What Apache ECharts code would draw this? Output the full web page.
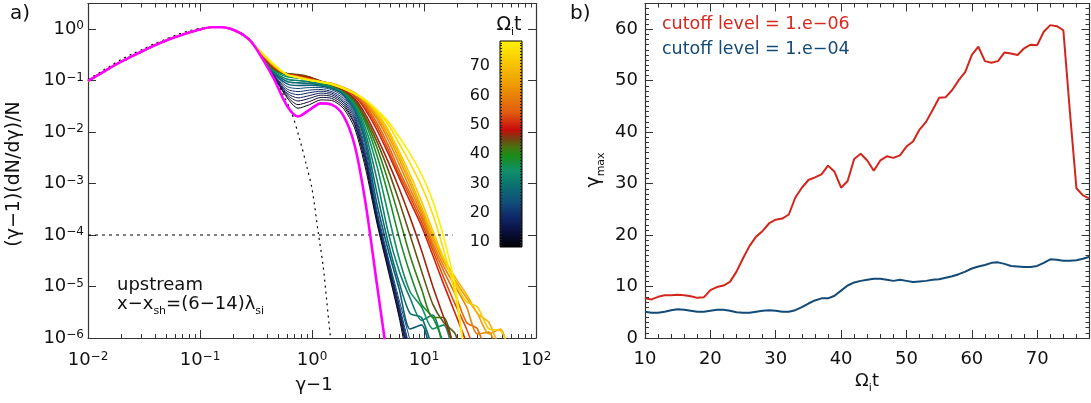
<!DOCTYPE html>
<html><head><meta charset="utf-8">
<script src="https://cdn.jsdelivr.net/npm/echarts@6/dist/echarts.min.js"></script>
<style>html,body{margin:0;padding:0;background:#fff}#c{width:1091px;height:403px}</style>
</head><body><div id="c"></div>
<script>
// ===== DATA =====
// Left panel: shared low-energy core of all spectra
const coreX = [0.01,0.0125,0.016,0.02,0.025,0.032,0.04,0.05,0.063,0.08,0.1,0.125,0.16,0.2,0.25,0.3];
const coreY = [0.098,0.13,0.18,0.235,0.30,0.39,0.49,0.60,0.72,0.86,0.98,1.08,1.08,0.96,0.74,0.50];
// tails (gamma-1 grid)
const tailX = [0.45,0.6,0.75,0.95,1.2,1.5,1.9,2.4,3.0,3.8,4.8,6.0,7.5,9.5,12,15,19,24,30,38,48,60];
const tailMag = [0.115,0.032,0.020,0.027,0.036,0.034,0.021,0.0056,4.3e-4,1.1e-5,3e-7];
const tail10 = [0.125,0.046,0.029,0.034,0.042,0.041,0.029,0.012,2.0e-3,1.7e-4,2.0e-5,2.5e-6,2e-7];
const tail12 = [0.127,0.049,0.034,0.039,0.047,0.045,0.032,0.014,2.4e-3,1.9e-4,2.2e-5,2.8e-6,3e-7];
const tail14 = [0.128,0.053,0.040,0.045,0.052,0.049,0.035,0.015,2.8e-3,2.0e-4,2.5e-5,3.2e-6,3.5e-7];
const tail16 = [0.130,0.057,0.046,0.051,0.057,0.053,0.038,0.017,3.1e-3,2.2e-4,2.8e-5,3.6e-6,4e-7];
const tail18 = [0.133,0.062,0.053,0.058,0.062,0.057,0.041,0.019,3.5e-3,2.4e-4,3.0e-5,4e-6,5e-7];
const tail20 = [0.136,0.068,0.061,0.065,0.067,0.061,0.045,0.021,4.0e-3,2.6e-4,3.3e-5,4.5e-6,6e-7];
const tail23 = [0.140,0.076,0.070,0.073,0.073,0.066,0.049,0.023,4.8e-3,3.0e-4,3.6e-5,5.5e-6,9e-7,1e-7];
const tail26 = [0.145,0.086,0.080,0.081,0.078,0.070,0.053,0.026,6.0e-3,4.0e-4,5e-5,9e-6,1.5e-6,1.8e-6,3e-7];
const tail29 = [0.150,0.096,0.090,0.088,0.082,0.073,0.056,0.029,7.5e-3,6.5e-4,7e-5,1.2e-5,3e-6,2.5e-6,6e-7,2e-7];
const tail32 = [0.155,0.106,0.100,0.094,0.085,0.076,0.059,0.032,9.5e-3,1.2e-3,1.1e-4,2e-5,6e-6,2.2e-6,2.8e-6,5e-7];
const tail35 = [0.160,0.118,0.112,0.102,0.089,0.078,0.061,0.035,0.012,2.2e-3,2.5e-4,3.5e-5,8e-6,4e-6,1.5e-6,1.8e-6,3e-7];
const tail38 = [0.165,0.128,0.122,0.110,0.093,0.080,0.063,0.038,0.015,3.5e-3,6e-4,9e-5,1.8e-5,4.5e-6,2.5e-6,8e-7,2e-7];
const tail41 = [0.170,0.134,0.128,0.115,0.096,0.082,0.064,0.040,0.017,5e-3,1.1e-3,2.2e-4,4e-5,9e-6,2.5e-6,2.5e-6,4e-7];
const tail44 = [0.175,0.136,0.130,0.117,0.097,0.083,0.065,0.042,0.019,6.5e-3,1.8e-3,4.5e-4,1.0e-4,2e-5,4.5e-6,2e-6,1.2e-6,2e-7];
const tail47 = [0.180,0.135,0.127,0.114,0.096,0.084,0.066,0.045,0.022,8e-3,2.6e-3,8e-4,2.2e-4,5e-5,1e-5,2.5e-6,6e-7];
const tail50 = [0.185,0.132,0.122,0.109,0.095,0.085,0.068,0.050,0.027,0.011,3.8e-3,1.3e-3,4.5e-4,1.5e-4,4e-5,1.1e-5,3e-6,8e-7,2e-7];
const tail53 = [0.190,0.132,0.120,0.107,0.095,0.086,0.070,0.052,0.030,0.013,4.5e-3,1.5e-3,5.5e-4,1.8e-4,5e-5,1.5e-5,4.5e-6,1.5e-6,4e-7];
const tail56 = [0.195,0.131,0.118,0.106,0.095,0.086,0.071,0.054,0.033,0.015,5.5e-3,1.8e-3,6.5e-4,2.2e-4,6e-5,2e-5,7e-6,2e-6,1.5e-6,3e-7];
const tail60 = [0.200,0.130,0.117,0.105,0.095,0.087,0.072,0.056,0.036,0.018,7e-3,2.4e-3,8e-4,2.6e-4,7e-5,2.5e-5,1e-5,4e-6,1.2e-6,1.3e-6,2e-7];
const tail64 = [0.200,0.130,0.116,0.104,0.094,0.087,0.073,0.057,0.038,0.020,8.5e-3,3e-3,1e-3,3e-4,8.5e-5,3e-5,1.3e-5,6e-6,3e-6,1.2e-6,1.5e-6,3e-7];
const tail68 = [0.205,0.130,0.116,0.103,0.094,0.087,0.073,0.058,0.040,0.022,0.010,3.6e-3,1.2e-3,3.5e-4,1e-4,3.5e-5,1.5e-5,7e-6,3e-6,2e-6,6e-7,3e-7];
const tail72 = [0.205,0.130,0.115,0.102,0.094,0.086,0.072,0.057,0.041,0.024,0.011,4.2e-3,1.5e-3,4.5e-4,1.2e-4,3.5e-5,1.2e-5,5e-6,4e-6,1.5e-6,1.4e-6,5e-7];
const tail75 = [0.210,0.130,0.115,0.102,0.094,0.085,0.071,0.056,0.042,0.026,0.014,6e-3,2.5e-3,9e-4,2.5e-4,5e-5,7e-6,3e-7];
const tail78 = [0.210,0.130,0.114,0.101,0.093,0.084,0.070,0.055,0.042,0.027,0.016,8e-3,3.8e-3,1.5e-3,4.5e-4,9e-5,1e-5,2e-7];
const spectra = [[10,tail10],[12,tail12],[14,tail14],[16,tail16],[18,tail18],[20,tail20],[23,tail23],[26,tail26],[29,tail29],[32,tail32],[35,tail35],[38,tail38],[41,tail41],[44,tail44],[47,tail47],[50,tail50],[53,tail53],[56,tail56],[60,tail60],[64,tail64],[68,tail68],[72,tail72],[75,tail75],[78,tail78]];
// dashed Maxwellian
const maxwX = [0.01,0.0125,0.016,0.02,0.025,0.032,0.04,0.05,0.063,0.08,0.1,0.125,0.16,0.2,0.25,0.3,0.36,0.45,0.55,0.66,0.78,0.9,1.0,1.14,1.26,1.35,1.45,1.55];
const maxwY = [0.105,0.14,0.195,0.26,0.33,0.42,0.53,0.64,0.78,0.92,1.03,1.10,1.09,0.97,0.76,0.52,0.31,0.13,0.055,0.023,0.0070,0.0021,8.0e-4,1.07e-4,2.4e-5,5.5e-6,1.2e-6,3e-7];
// horizontal cutoff level line
const cutX = [0.01, 18];
const cutY = [1e-4, 1e-4];
// tick values
const xTicksLeft = [0.01,0.1,1,10,100];
const yTicksLeft = [1e-6,1e-5,1e-4,1e-3,1e-2,1e-1,1];
const cbTicks = [10,20,30,40,50,60,70];
const xTicksRight = [10,20,30,40,50,60,70];
const yTicksRight = [0,10,20,30,40,50,60];
// Right panel
const tRight = [10,11,12,13,14,15,16,17,18,19,20,21,22,23,24,25,26,27,28,29,30,31,32,33,34,35,36,37,38,39,40,41,42,43,44,45,46,47,48,49,50,51,52,53,54,55,56,57,58,59,60,61,62,63,64,65,66,67,68,69,70,71,72,73,74,75,76,77,78];
const gmax6 = [7.7,7.5,8.0,8.3,8.3,8.4,8.3,8.1,7.8,7.9,9.3,9.9,10.2,10.9,12.9,15.5,17.9,19.7,20.8,22.3,23.0,23.2,24.0,27.3,29.2,30.7,31.2,31.8,33.5,32.3,29.2,30.5,34.8,35.8,34.5,32.5,34.5,35.3,35.0,35.5,37.2,38.2,40.5,42.0,44.3,46.7,46.8,48.2,50.1,51.7,55.0,56.6,53.8,53.5,53.8,55.5,55.3,55.0,56.3,57.0,56.9,59.5,60.8,60.6,59.8,44.0,29.1,27.7,27.1];
const gmax4 = [5.1,4.9,4.9,5.1,5.4,5.6,5.5,5.3,5.1,5.1,5.3,5.5,5.5,5.3,5.0,4.9,4.9,5.1,5.3,5.4,5.3,5.1,5.1,5.4,6.0,6.7,7.3,7.7,7.7,8.2,9.2,10.2,10.8,11.1,11.3,11.5,11.5,11.3,11.1,11.3,11.1,10.9,11.0,11.1,11.3,11.4,11.7,12.0,12.4,12.9,13.5,13.9,14.2,14.6,14.7,14.4,14.0,13.9,13.8,13.8,14.0,14.6,15.3,15.2,15.0,15.0,15.1,15.4,15.8];
// colour bar range and colour map
const cbMin = 8.3, cbMax = 78.6;
const cmapV = [8.3,13.9,18.9,23.8,29.4,34.3,39.5,42.5,45.5,48.4,54,64.5,78.6];
const cmapC = ['#000000','#0a1040','#102a6a','#10507a','#0a7070','#10906a','#1a8c18','#4a7010','#7a3c10','#c80c0c','#e05a10','#f0a000','#fff200'];

// ===== helpers =====
const FONT = 'DejaVu Sans';
const AX = '#333';
function hex(h){return [parseInt(h.substr(1,2),16),parseInt(h.substr(3,2),16),parseInt(h.substr(5,2),16)];}
function cmap(v){
  if (v<=cmapV[0]) return cmapC[0];
  for (let i=1;i<cmapV.length;i++){
    if (v<=cmapV[i]){
      const f=(v-cmapV[i-1])/(cmapV[i]-cmapV[i-1]);
      const a=hex(cmapC[i-1]), b=hex(cmapC[i]);
      return 'rgb('+a.map((c,k)=>Math.round(c+(b[k]-c)*f)).join(',')+')';
    }
  }
  return cmapC[cmapC.length-1];
}
function pairs(xs, ys){ return ys.map((y,i)=>[xs[i],y]); }
function supFmt(v){ const e=Math.round(Math.log10(v)); return '{b|10}{s|'+(e<0?'\u2212'+(-e):e)+'}'; }
const supRich = {
  b:{fontSize:18,lineHeight:18,fontFamily:FONT,color:'#111',verticalAlign:'bottom'},
  s:{fontSize:12,lineHeight:11,fontFamily:FONT,color:'#111',verticalAlign:'top'}
};
function minorLog(lo,hi){const o=[];for(let e=lo;e<hi;e++)for(let k=2;k<=9;k++)o.push(+(k*Math.pow(10,e)).toPrecision(3));return o;}
function minorLin(lo,hi,step,major){const o=[];for(let v=lo;v<=hi+1e-9;v+=step){const r=Math.round(v*1000)/1000; if(r%major!==0)o.push(r);}return o;}
const tickLine = {color:AX,width:1};
function ax(o){
  return Object.assign({
    axisLine:{show:false,onZero:false,lineStyle:{color:AX,width:1.2}},
    axisTick:{show:true,inside:true,length:8,lineStyle:tickLine},
    axisLabel:{show:false},
    splitLine:{show:false}, minorTick:{show:false}, minorSplitLine:{show:false}
  }, o);
}

// ===== series =====
const series = [];
series.push({type:'line',xAxisIndex:0,yAxisIndex:0,data:pairs(maxwX,maxwY),symbol:'none',smooth:0.3,
  lineStyle:{color:'#000',width:1.2,type:[2,4]},z:2,silent:true});
spectra.forEach(([t,tail])=>{
  series.push({type:'line',xAxisIndex:0,yAxisIndex:0,symbol:'none',smooth:0.25,silent:true,
    data:pairs(coreX,coreY).concat(pairs(tailX,tail)),
    lineStyle:{color:cmap(t),width:t<24?1:1.6},z:3});
});
series.push({type:'line',xAxisIndex:0,yAxisIndex:0,data:pairs(cutX,cutY),symbol:'none',
  lineStyle:{color:'#000',width:1,type:[3,4]},z:4,silent:true});
series.push({type:'line',xAxisIndex:0,yAxisIndex:0,symbol:'none',smooth:0.3,silent:true,
  data:pairs(coreX,coreY).concat(pairs(tailX,tailMag)),lineStyle:{color:'#ff00ff',width:2.6},z:5});
// right panel
series.push({type:'line',xAxisIndex:4,yAxisIndex:2,data:pairs(tRight,gmax6),symbol:'none',
  lineStyle:{color:'#d2261c',width:2},silent:true});
series.push({type:'line',xAxisIndex:4,yAxisIndex:2,data:pairs(tRight,gmax4),symbol:'none',
  lineStyle:{color:'#124a78',width:2},silent:true});
// colour bar
const grad = new echarts.graphic.LinearGradient(0,0,0,1,
  cmapV.map((v,i)=>({offset:(cbMax-v)/(cbMax-cbMin),color:cmapC[i]})).reverse());
series.push({type:'custom',xAxisIndex:8,yAxisIndex:6,data:[[0,cbMax]],silent:true,z:2,
  renderItem:(p,api)=>{
    const a=api.coord([0,cbMin]), b=api.coord([0,cbMax]); const w=api.size([1,0])[0];
    return {type:'rect',shape:{x:a[0]-w/2,y:b[1],width:w,height:a[1]-b[1]},
      style:{fill:grad,stroke:'#000',lineWidth:1}};
  }});

// ===== axes =====
const xMinorL = minorLog(-2,2);
const xMinorR = minorLin(10,78,2,10);
const yMinorR = minorLin(0,65,1,10);
const cbMinor = minorLin(9,78,1,1000);
const xAxis = [
  ax({type:'log',gridIndex:0,min:0.01,max:100,position:'bottom',axisLine:{show:true,onZero:false,lineStyle:{color:AX,width:1.2}},
      axisTick:{show:true,inside:true,length:8,customValues:xTicksLeft,lineStyle:tickLine},
      axisLabel:{show:true,customValues:xTicksLeft,formatter:supFmt,rich:supRich,margin:13}}),
  ax({type:'log',gridIndex:0,min:0.01,max:100,position:'bottom',axisTick:{show:true,inside:true,length:4,customValues:xMinorL,lineStyle:tickLine}}),
  ax({type:'log',gridIndex:0,min:0.01,max:100,position:'top',axisLine:{show:true,onZero:false,lineStyle:{color:AX,width:1.2}},
      axisTick:{show:true,inside:true,length:8,customValues:xTicksLeft,lineStyle:tickLine}}),
  ax({type:'log',gridIndex:0,min:0.01,max:100,position:'top',axisTick:{show:true,inside:true,length:4,customValues:xMinorL,lineStyle:tickLine}}),
  ax({type:'value',gridIndex:1,min:10,max:78,position:'bottom',axisLine:{show:true,onZero:false,lineStyle:{color:AX,width:1.2}},
      axisTick:{show:true,inside:true,length:8,customValues:xTicksRight,lineStyle:tickLine},
      axisLabel:{show:true,customValues:xTicksRight,fontSize:18,fontFamily:FONT,color:'#111',margin:12}}),
  ax({type:'value',gridIndex:1,min:10,max:78,position:'bottom',axisTick:{show:true,inside:true,length:4,customValues:xMinorR,lineStyle:tickLine}}),
  ax({type:'value',gridIndex:1,min:10,max:78,position:'top',axisLine:{show:true,onZero:false,lineStyle:{color:AX,width:1.2}},
      axisTick:{show:true,inside:true,length:8,customValues:xTicksRight,lineStyle:tickLine}}),
  ax({type:'value',gridIndex:1,min:10,max:78,position:'top',axisTick:{show:true,inside:true,length:4,customValues:xMinorR,lineStyle:tickLine}}),
  {type:'category',gridIndex:2,data:['cb'],show:false,boundaryGap:true}
];
const yAxis = [
  ax({type:'log',gridIndex:0,min:1e-6,max:3.13,position:'left',axisLine:{show:true,onZero:false,lineStyle:{color:AX,width:1.2}},
      axisTick:{show:true,inside:true,length:8,customValues:yTicksLeft,lineStyle:tickLine},
      axisLabel:{show:true,customValues:yTicksLeft,formatter:supFmt,rich:supRich,margin:4}}),
  ax({type:'log',gridIndex:0,min:1e-6,max:3.13,position:'right',axisLine:{show:true,onZero:false,lineStyle:{color:AX,width:1.2}},
      axisTick:{show:true,inside:true,length:8,customValues:yTicksLeft,lineStyle:tickLine}}),
  ax({type:'value',gridIndex:1,min:0,max:65,position:'left',axisLine:{show:true,onZero:false,lineStyle:{color:AX,width:1.2}},
      axisTick:{show:true,inside:true,length:8,customValues:yTicksRight,lineStyle:tickLine},
      axisLabel:{show:true,customValues:yTicksRight,fontSize:18,fontFamily:FONT,color:'#111',margin:7}}),
  ax({type:'value',gridIndex:1,min:0,max:65,position:'left',axisTick:{show:true,inside:true,length:4,customValues:yMinorR,lineStyle:tickLine}}),
  ax({type:'value',gridIndex:1,min:0,max:65,position:'right',axisLine:{show:true,onZero:false,lineStyle:{color:AX,width:1.2}},
      axisTick:{show:true,inside:true,length:8,customValues:yTicksRight,lineStyle:tickLine}}),
  ax({type:'value',gridIndex:1,min:0,max:65,position:'right',axisTick:{show:true,inside:true,length:4,customValues:yMinorR,lineStyle:tickLine}}),
  ax({type:'value',gridIndex:2,min:cbMin,max:cbMax,position:'left',z:10,
      axisTick:{show:true,inside:true,length:2,customValues:cbMinor,lineStyle:{color:'#222',width:1}},
      axisLabel:{show:true,customValues:cbTicks,fontSize:16,fontFamily:FONT,color:'#111',margin:10}}),
  ax({type:'value',gridIndex:2,min:cbMin,max:cbMax,position:'right',z:10,
      axisTick:{show:true,inside:true,length:2,customValues:cbMinor,lineStyle:{color:'#222',width:1}}})
];

// ===== texts =====
const T = (o)=>Object.assign({type:'text',silent:true},o);
const base = {fontFamily:FONT,fill:'#111'};
const graphic = [
  T({x:10,y:4,style:Object.assign({text:'a)',fontSize:20},base)}),
  T({x:570,y:4,style:Object.assign({text:'b)',fontSize:20},base)}),
  T({x:14,y:174,rotation:Math.PI/2,style:Object.assign({text:'(\u03b3\u22121)(dN/d\u03b3)/N',fontSize:19,align:'center',verticalAlign:'middle'},base)}),
  T({x:314,y:385,style:Object.assign({text:'\u03b3\u22121',fontSize:18,align:'center',verticalAlign:'middle'},base)}),
  T({x:117,y:285,style:Object.assign({text:'upstream',fontSize:18,align:'left',verticalAlign:'middle'},base)}),
  T({x:117,y:306,style:{text:'{a|x\u2212x}{s|sh}{a|=(6\u221214)\u03bb}{s|si}',align:'left',verticalAlign:'middle',
     rich:{a:{fontSize:18,lineHeight:22,fontFamily:FONT,fill:'#111',verticalAlign:'top'},
           s:{fontSize:11,lineHeight:11,fontFamily:FONT,fill:'#111',verticalAlign:'bottom'}}}}),
  T({x:509,y:27,style:{text:'{a|\u03a9}{s|i}{a|t}',align:'center',verticalAlign:'middle',
     rich:{a:{fontSize:19,lineHeight:22,fontFamily:FONT,fill:'#111',verticalAlign:'top'},
           s:{fontSize:11,lineHeight:11,fontFamily:FONT,fill:'#111',verticalAlign:'bottom'}}}}),
  T({x:662,y:24,style:{text:'cutoff level = 1.e\u221206',fontSize:17.5,fontFamily:FONT,fill:'#d8281e',align:'left',verticalAlign:'middle'}}),
  T({x:662,y:49,style:{text:'cutoff level = 1.e\u221204',fontSize:17.5,fontFamily:FONT,fill:'#124a78',align:'left',verticalAlign:'middle'}}),
  T({x:596,y:170,rotation:Math.PI/2,style:{text:'{a|\u03b3}{s|max}',align:'center',verticalAlign:'middle',
     rich:{a:{fontSize:19,lineHeight:22,fontFamily:FONT,fill:'#111',verticalAlign:'top'},
           s:{fontSize:11,lineHeight:11,fontFamily:FONT,fill:'#111',verticalAlign:'bottom'}}}}),
  T({x:867,y:383,style:{text:'{a|\u03a9}{s|i}{a|t}',align:'center',verticalAlign:'middle',
     rich:{a:{fontSize:18,lineHeight:22,fontFamily:FONT,fill:'#111',verticalAlign:'top'},
           s:{fontSize:11,lineHeight:11,fontFamily:FONT,fill:'#111',verticalAlign:'bottom'}}}})
];

const chart = echarts.init(document.getElementById('c'), null, {renderer:'canvas'});
chart.setOption({
  animation:false,
  backgroundColor:'#fff',
  grid:[
    {left:88,top:3.5,width:448,height:334.5},
    {left:645,top:3.5,width:444.5,height:334.5},
    {left:500,top:41,width:22,height:206}
  ],
  xAxis, yAxis, series, graphic
});
</script></body></html>
